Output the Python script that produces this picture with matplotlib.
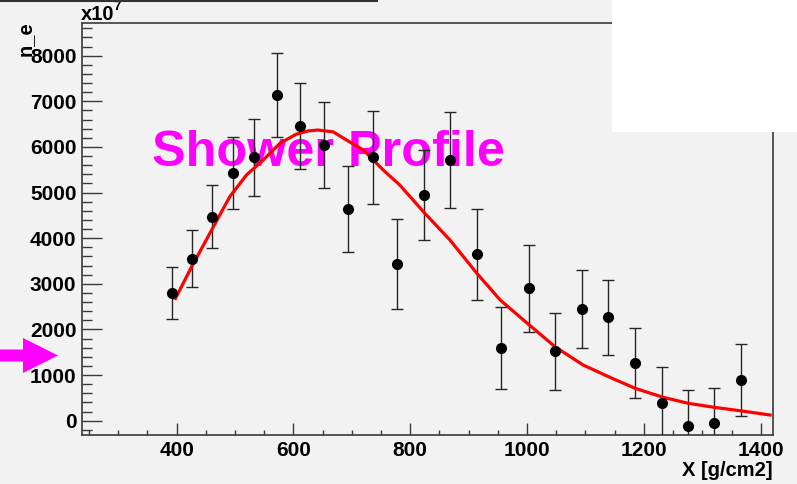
import matplotlib
matplotlib.use("Agg")
import matplotlib.pyplot as plt
from matplotlib.patches import Rectangle, Polygon
from matplotlib.lines import Line2D
from matplotlib.ticker import MultipleLocator, FixedLocator

# Measured shower profile: slant depth, electron number (x10^7) and errors
depth = [392, 426, 460, 496, 532, 571, 612, 653, 693, 736, 777, 823,
         868, 914, 956, 1004, 1048, 1094, 1138, 1185, 1231, 1276, 1320, 1367]
n_e = [2800, 3545, 4470, 5435, 5770, 7145, 6460, 6050, 4640, 5770, 3430, 4945,
       5715, 3645, 1600, 2900, 1525, 2450, 2265, 1270, 380, -110, -55, 890]
n_e_err = [570, 625, 690, 790, 840, 920, 940, 940, 940, 1020, 980, 995,
           1045, 1000, 895, 950, 845, 855, 815, 767, 790, 776, 765, 790]

# Fitted profile curve
fit_depth = [398, 426, 460, 491, 520, 548, 577, 605, 625, 642, 668, 691, 720,
             754, 782, 825, 868, 914, 954, 999, 1048, 1096, 1142, 1185, 1233,
             1276, 1325, 1368, 1416]
fit_n_e = [2680, 3380, 4180, 4910, 5390, 5710, 6080, 6280, 6350, 6370, 6330,
           6150, 5930, 5490, 5165, 4545, 3960, 3230, 2645, 2150, 1620, 1220,
           950, 710, 513, 381, 285, 213, 125]

x_ticks = [400, 600, 800, 1000, 1200, 1400]
y_ticks = [0, 1000, 2000, 3000, 4000, 5000, 6000, 7000, 8000]

W, H = 797, 484
BG = "#f2f2f2"
FRAME = "#3a3a3a"
FONT = "Liberation Sans"

fig = plt.figure(figsize=(W / 100, H / 100), dpi=100, facecolor=BG)


def fpx(x, y):
    """Figure-fraction coordinates from pixel position (origin top-left)."""
    return x / W, 1 - y / H


left, top = fpx(82, 22.7)
right, bottom = fpx(772.7, 435)
ax = fig.add_axes([left, bottom, right - left, top - bottom], facecolor=BG)

ax.set_xlim(238, 1420.5)
ax.set_ylim(-313, 8722)

ax.xaxis.set_major_locator(FixedLocator(x_ticks))
ax.xaxis.set_minor_locator(MultipleLocator(50))
ax.yaxis.set_major_locator(FixedLocator(y_ticks))
ax.yaxis.set_minor_locator(MultipleLocator(200))

ax.tick_params(axis="both", which="both", direction="in", color=FRAME,
               width=1.0, top=False, right=False)
ax.tick_params(axis="x", which="major", length=8.5, pad=4)
ax.tick_params(axis="x", which="minor", length=3.8)
ax.tick_params(axis="y", which="major", length=14.4, pad=4)
ax.tick_params(axis="y", which="minor", length=7.2)

for lab in ax.get_xticklabels() + ax.get_yticklabels():
    lab.set_fontfamily(FONT)
    lab.set_fontweight("bold")
    lab.set_fontsize(15)

for sp in ax.spines.values():
    sp.set_color(FRAME)
    sp.set_linewidth(1.2)

# Title text inside the frame
ax.text(358, 5580, "Shower Profile", color="#ff00ff", fontsize=36.3,
        fontfamily=FONT, fontweight="bold", ha="left", va="baseline", zorder=2)

# Data with error bars
ax.errorbar(depth, n_e, yerr=n_e_err, fmt="none", ecolor="#262626",
            elinewidth=1.0, capsize=4.5, capthick=1.0, zorder=3)
ax.plot(fit_depth, fit_n_e, color="#ff0000", lw=2.3, zorder=4,
        solid_joinstyle="round")
ax.plot(depth, n_e, "o", color="black", ms=7.0, zorder=5)

# Axis titles
ax.text(1.0, -0.085, "X [g/cm2]", transform=ax.transAxes, ha="right",
        va="center", fontsize=14.5, fontfamily=FONT, fontweight="bold")
fig.text(*fpx(25, 56), "n_e", rotation=90, ha="center", va="bottom",
         fontsize=14.5, fontfamily=FONT, fontweight="bold")

# Exponent of the y axis
fig.text(*fpx(81, 19.5), "x10", ha="left", va="baseline",
         fontsize=14.5, fontfamily=FONT, fontweight="bold")
fig.text(*fpx(113, 0.5), "7", ha="left", va="top",
         fontsize=9.5, fontfamily=FONT, fontweight="bold")

# Panel overlays: blank box at upper right, edge line at upper left
fig.add_artist(Rectangle(fpx(612, 132), 185 / W, 132 / H,
                         transform=fig.transFigure, facecolor="white",
                         edgecolor="none", zorder=10))
fig.add_artist(Line2D([0, 377 / W], [1 - 0.8 / H, 1 - 0.8 / H],
                      transform=fig.transFigure, color="#333333", lw=1.5,
                      zorder=10))

# Pointer arrow on the left
arrow_pts = [fpx(0, 349.5), fpx(23, 349.5), fpx(23, 338), fpx(58, 355.5),
             fpx(23, 373), fpx(23, 361.5), fpx(0, 361.5)]
fig.add_artist(Polygon(arrow_pts, closed=True, transform=fig.transFigure,
                       facecolor="#ff00ff", edgecolor="none", zorder=10))

fig.savefig("out.png", dpi=100, facecolor=BG)
